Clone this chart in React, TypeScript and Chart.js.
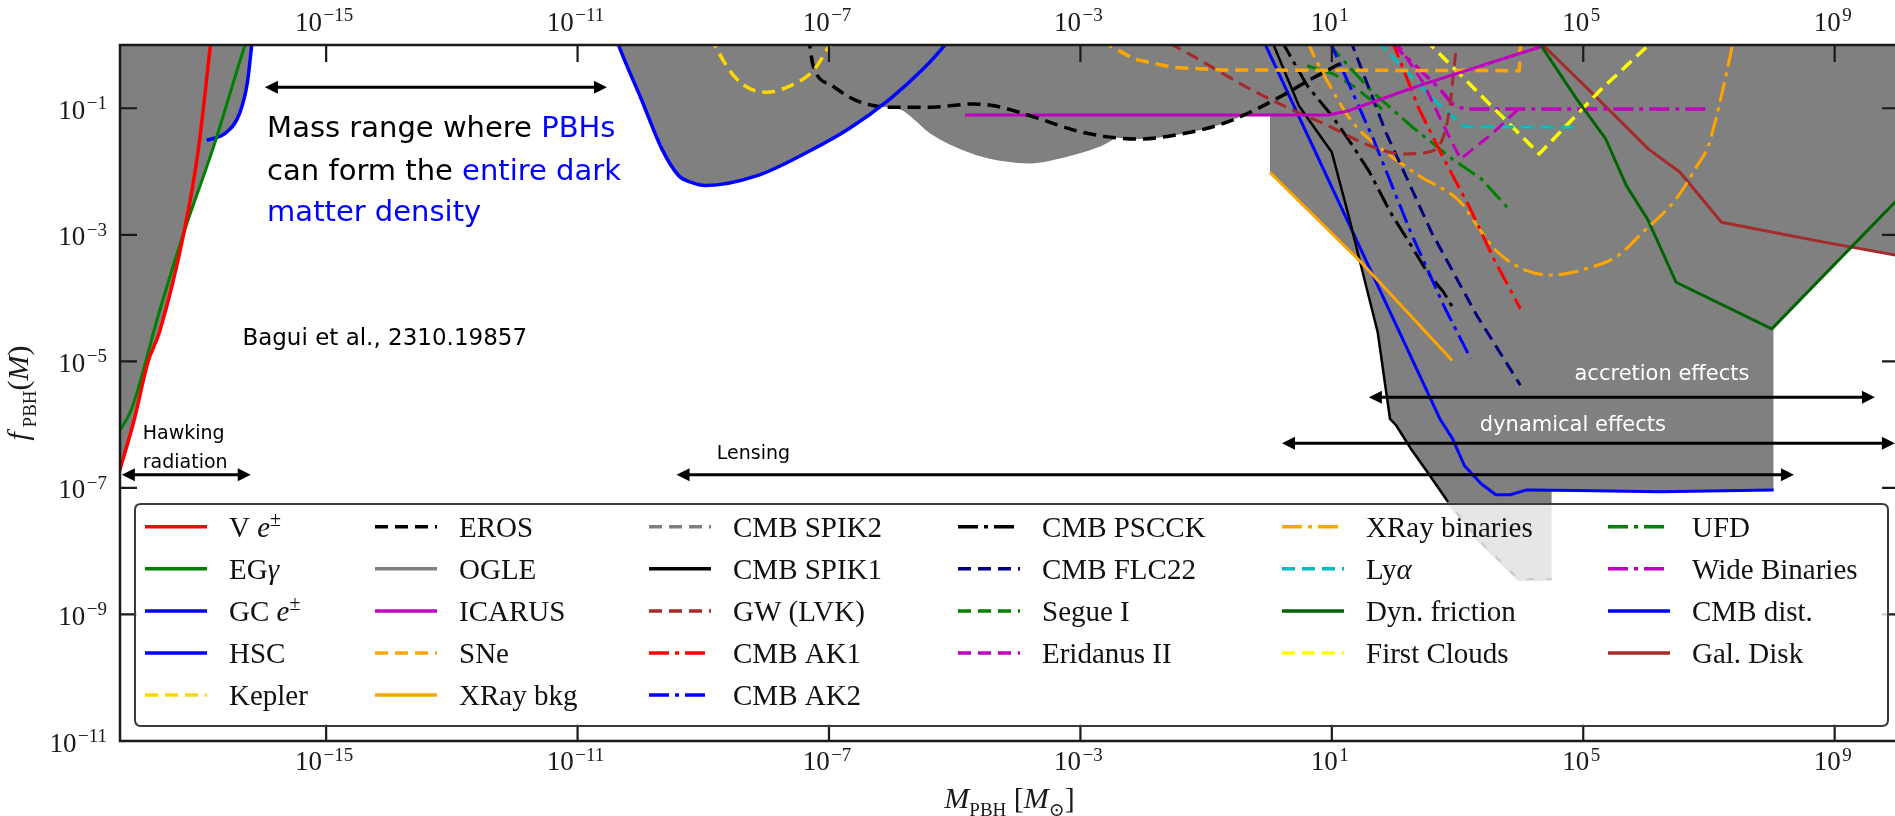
import React, { useEffect, useRef } from 'react';
import { Chart, registerables } from 'chart.js';

Chart.register(...registerables);

// ---------------- axes ----------------
const X_MIN = 5.25e-19;
const X_MAX = 9.12e9;
const Y_MIN = 1e-11;
const Y_MAX = 1;
const xTickValues = [1e-15, 1e-11, 1e-7, 1e-3, 1e1, 1e5, 1e9];
const yTickValues = [1e-1, 1e-3, 1e-5, 1e-7, 1e-9, 1e-11];

// ---------------- data (M in solar masses, f_PBH) ----------------
const veM = [5.0e-19, 8.9e-19, 1.45e-18, 2.24e-18, 5.5e-18, 9.3e-18, 1.45e-17, 1.5e-17];
const veF = [1.66e-7, 1.23e-6, 9.5e-6, 2.95e-5, 1.12e-3, 0.023, 1.05, 1.4];

const egM = [5.0e-19, 7.9e-19, 2.24e-18, 5.5e-18, 1.58e-17, 5.2e-17, 5.75e-17];
const egF = [7.6e-7, 1.7e-6, 6.3e-5, 1.12e-3, 0.023, 1.05, 1.4];

const gcM = [1.26e-17, 2.63e-17, 4.27e-17, 5.6e-17, 6.6e-17, 6.9e-17];
const gcF = [0.031, 0.042, 0.087, 0.26, 1.05, 1.4];

const hscM = [4.0e-11, 4.4e-11, 1.03e-10, 2.19e-10, 4.07e-10, 6.3e-10, 1.1e-9, 7.2e-9, 4.5e-8, 2.04e-7, 9.3e-7, 3.16e-6, 7.2e-6, 8.9e-6];
const hscF = [1.4, 1.05, 0.14, 0.0228, 8.6e-3, 6.8e-3, 6.0e-3, 8.6e-3, 0.0202, 0.047, 0.14, 0.42, 1.04, 1.4];

const keplerM = [1.3e-9, 1.48e-9, 3.4e-9, 9.8e-9, 2.45e-8, 5.6e-8, 1.02e-7, 1.23e-7];
const keplerF = [1.4, 1.05, 0.29, 0.179, 0.228, 0.393, 0.975, 1.3];

const erosM = [4.7e-8, 4.9e-8, 5.6e-8, 1.12e-7, 2.75e-7, 9.3e-7, 4.3e-6, 1.95e-5, 4.2e-5, 1.9e-4, 8.7e-4, 2.95e-3, 8.5e-3, 0.039, 0.178, 0.5, 1.62, 4.7, 16.2];
const erosF = [1.4, 1.05, 0.47, 0.228, 0.132, 0.104, 0.104, 0.117, 0.11, 0.072, 0.044, 0.035, 0.0327, 0.039, 0.0565, 0.0865, 0.158, 0.29, 0.56];

const ogleM = [1.3e-6, 1.7e-6, 4.27e-6, 1.95e-5, 5.25e-5, 1.66e-4, 5.5e-4, 1.86e-3, 3.55e-3];
const ogleF = [0.104, 0.0916, 0.0418, 0.0202, 0.0158, 0.0143, 0.0178, 0.0256, 0.0355];

const icarusM = [1.45e-5, 8.7, 18.6, 61.7, 245, 1122, 5130, 2.0e4, 2.5e4];
const icarusF = [0.0783, 0.0783, 0.0916, 0.14, 0.228, 0.37, 0.6, 0.92, 1.26];

const sneM = [2.24e-3, 2.95e-3, 7.2e-3, 0.0285, 0.178, 9.6e3, 1.0e4, 1.0e4];
const sneF = [1.26, 0.975, 0.6, 0.445, 0.403, 0.393, 0.93, 1.3];

const xbkgM = [1.03, 29.2, 822];
const xbkgF = [9.75e-3, 3.69e-4, 1.03e-5];

const spik2M = [708, 2040, 9330, 3.16e4];
const spik2F = [6.0e-8, 1.58e-8, 3.6e-9, 3.6e-9];

const spik1M = [1.12, 1.2, 2.99, 10, 18.5, 33.9, 53.7, 84.3, 106, 180, 331, 708, 2040, 9330, 3.16e4];
const spik1F = [1.3, 0.975, 0.11, 0.0202, 2.0e-3, 1.78e-4, 2.88e-5, 1.23e-6, 9.7e-7, 4.2e-7, 1.78e-7, 6.0e-8, 1.58e-8, 3.6e-9, 3.6e-9];

const gwM = [0.026, 0.039, 0.5, 1.9, 8.7, 39.8, 132, 331, 603, 759, 832, 955, 977];
const gwF = [1.07, 0.865, 0.202, 0.104, 0.053, 0.0257, 0.019, 0.0202, 0.0369, 0.11, 0.257, 0.975, 1.3];

const ak1M = [89, 98, 244, 607, 1510, 3770, 1.0e4];
const ak1F = [1.26, 0.975, 0.0975, 0.0158, 2.88e-3, 4.17e-4, 6.8e-5];

const ak2M = [9.0, 10, 45.7, 180, 603, 1620];
const ak2F = [1.26, 0.975, 0.0327, 1.1e-3, 7.6e-5, 1.1e-5];

const pscckM = [1.58, 1.76, 4.05, 10, 21.4, 39.8, 85, 182, 331, 603, 832];
const pscckF = [1.26, 0.975, 0.228, 0.0764, 0.0257, 9.8e-3, 2.29e-3, 6.8e-4, 2.57e-4, 1.23e-4, 7.2e-5];

const flc22M = [20, 21.4, 72.4, 385, 2040, 1.0e4];
const flc22F = [1.26, 0.975, 0.0417, 1.1e-3, 5.25e-5, 4.2e-6];

const segueM = [4.05, 10.7, 23.2, 63];
const segueF = [0.47, 0.348, 0.217, 0.0975];

const eridM = [105, 115, 282, 603, 1120, 3770, 9330];
const eridF = [1.26, 0.975, 0.257, 0.053, 0.0158, 0.0417, 0.0975];

const xbinM = [4.0, 4.4, 8.7, 21.4, 61.7, 245, 1120, 2040, 4370, 1.26e4, 3.16e4, 1.07e5, 3.55e5, 8.9e5, 3.0e6, 6.5e6, 9.8e6, 1.41e7, 1.86e7, 2.34e7, 2.45e7];
const xbinF = [1.26, 0.975, 0.257, 0.06, 0.0228, 8.6e-3, 3.27e-3, 1.4e-3, 5.3e-4, 2.72e-4, 2.32e-4, 2.88e-4, 4.68e-4, 1.1e-3, 3.7e-3, 0.0124, 0.0257, 0.0975, 0.327, 0.975, 1.3];

const lyaM = [55, 61.7, 180, 525, 1290, 9.1e4];
const lyaF = [1.26, 0.975, 0.327, 0.11, 0.0513, 0.05];

const dynM = [1.9e4, 2.14e4, 7.85e4, 2.28e5, 4.85e5, 1.05e6, 3.0e6, 1.0e8, 1.0e10];
const dynF = [1.3, 0.975, 0.14, 0.0327, 5.98e-3, 1.78e-3, 1.78e-4, 3.26e-5, 3.6e-3];

const cloudsM = [320, 385, 2.0e4, 1.95e5, 1.07e6, 1.25e6];
const cloudsF = [1.3, 0.975, 0.019, 0.202, 0.975, 1.3];

const ufdM = [9.0, 10, 39.4, 180, 824, 2400, 6900];
const ufdF = [1.2, 0.92, 0.202, 0.053, 0.0158, 7.6e-3, 2.41e-3];

const wideM = [89, 98, 244, 525, 824, 1290, 1.01e7];
const wideF = [1.26, 0.975, 0.418, 0.202, 0.117, 0.0975, 0.0975];

const cmbdM = [0.79, 0.89, 525, 832, 1290, 2400, 4070, 6900, 1.26e4, 7.9e4, 1.62e6, 1.07e8];
const cmbdF = [1.26, 0.975, 1.23e-6, 6.0e-7, 2.24e-7, 1.15e-7, 7.8e-8, 7.8e-8, 9.3e-8, 9.1e-8, 8.7e-8, 9.3e-8];

const diskM = [2.0e4, 2.34e4, 1.53e5, 1.08e6, 3.47e6, 1.58e7, 7.1e8, 1.0e10];
const diskF = [1.26, 0.975, 0.158, 0.0228, 9.75e-3, 1.58e-3, 7.6e-4, 4.73e-4];

const legendLabels = [
  'V e±', 'EGγ', 'GC e±', 'HSC', 'Kepler',
  'EROS', 'OGLE', 'ICARUS', 'SNe', 'XRay bkg',
  'CMB SPIK2', 'CMB SPIK1', 'GW (LVK)', 'CMB AK1', 'CMB AK2',
  'CMB PSCCK', 'CMB FLC22', 'Segue I', 'Eridanus II',
  'XRay binaries', 'Lyα', 'Dyn. friction', 'First Clouds',
  'UFD', 'Wide Binaries', 'CMB dist.', 'Gal. Disk',
];
const legendColumnSizes = [5, 5, 5, 4, 4, 4];

// annotation anchors (data coordinates)
const massRangeArrow = { m1: 1.06e-16, m2: 2.93e-11, f: 0.215 };
const massRangeText = { m: 1.15e-16, f: [0.0469, 9.75e-3, 2.14e-3] };
const baguiText = { m: 4.65e-17, f: 2.26e-5 };
const hawkingText = { m: 1.21e-18, f: [7.0e-7, 2.5e-7] };
const hawkingArrow = { m1: 5.62e-19, m2: 6.32e-17, f: 1.61e-7 };
const lensingText = { m: 1.64e-9, f: 3.4e-7 };
const lensingArrow = { m1: 3.76e-10, m2: 2.25e8, f: 1.61e-7 };
const accretionText = { m: 1.79e6, f: 6.2e-6 };
const accretionArrow = { m1: 38.9, m2: 4.37e9, f: 2.72e-6 };
const dynamicalText = { m: 6.85e4, f: 9.6e-7 };
const dynamicalArrow = { m1: 1.61, m2: 9.08e9, f: 5.1e-7 };

// ---------------- styles ----------------
const GRAY = '#808080';
const RED = '#FF0000';
const GREEN = '#008000';
const BLUE = '#0000FF';
const GOLD = '#FFD700';
const BLACK = '#000000';
const MAGENTA = '#BF00BF';
const ORANGE = '#FFA500';
const BROWN = '#A52A2A';
const NAVY = '#000080';
const CYAN = '#00BFBF';
const DKGREEN = '#006400';
const YELLOW = '#FFFF00';
const SOLID: number[] = [];
const DASH = [13, 7];
const DASHDOT = [20, 6, 4, 6];

const SERIF = '"Liberation Serif", "DejaVu Serif", serif';
const HAND = '"DejaVu Sans", "Noto Sans", sans-serif';

type Spec = { m: number[]; f: number[]; color: string; width: number; dash: number[]; fill: boolean; smooth: boolean };
const specs: Spec[] = [
  { m: veM, f: veF, color: RED, width: 3.5, dash: SOLID, fill: true, smooth: true },
  { m: egM, f: egF, color: GREEN, width: 3, dash: SOLID, fill: true, smooth: true },
  { m: gcM, f: gcF, color: BLUE, width: 3.5, dash: SOLID, fill: true, smooth: true },
  { m: hscM, f: hscF, color: BLUE, width: 3.5, dash: SOLID, fill: true, smooth: true },
  { m: keplerM, f: keplerF, color: GOLD, width: 3.5, dash: DASH, fill: false, smooth: true },
  { m: erosM, f: erosF, color: BLACK, width: 3.5, dash: DASH, fill: true, smooth: true },
  { m: ogleM, f: ogleF, color: GRAY, width: 3.5, dash: SOLID, fill: true, smooth: true },
  { m: icarusM, f: icarusF, color: MAGENTA, width: 3, dash: SOLID, fill: true, smooth: false },
  { m: sneM, f: sneF, color: ORANGE, width: 3.5, dash: DASH, fill: false, smooth: false },
  { m: xbkgM, f: xbkgF, color: ORANGE, width: 3, dash: SOLID, fill: true, smooth: false },
  { m: spik2M, f: spik2F, color: GRAY, width: 3, dash: DASH, fill: false, smooth: false },
  { m: spik1M, f: spik1F, color: BLACK, width: 2.5, dash: SOLID, fill: true, smooth: false },
  { m: gwM, f: gwF, color: BROWN, width: 3, dash: DASH, fill: false, smooth: true },
  { m: ak1M, f: ak1F, color: RED, width: 3, dash: DASHDOT, fill: false, smooth: false },
  { m: ak2M, f: ak2F, color: BLUE, width: 3, dash: DASHDOT, fill: false, smooth: false },
  { m: pscckM, f: pscckF, color: BLACK, width: 3, dash: DASHDOT, fill: false, smooth: false },
  { m: flc22M, f: flc22F, color: NAVY, width: 3, dash: DASH, fill: false, smooth: false },
  { m: segueM, f: segueF, color: GREEN, width: 3, dash: DASH, fill: false, smooth: false },
  { m: eridM, f: eridF, color: MAGENTA, width: 3, dash: DASH, fill: false, smooth: false },
  { m: xbinM, f: xbinF, color: ORANGE, width: 3, dash: DASHDOT, fill: false, smooth: true },
  { m: lyaM, f: lyaF, color: CYAN, width: 3, dash: DASH, fill: false, smooth: false },
  { m: dynM, f: dynF, color: DKGREEN, width: 3, dash: SOLID, fill: true, smooth: false },
  { m: cloudsM, f: cloudsF, color: YELLOW, width: 3.5, dash: DASH, fill: false, smooth: false },
  { m: ufdM, f: ufdF, color: GREEN, width: 3, dash: DASHDOT, fill: false, smooth: false },
  { m: wideM, f: wideF, color: MAGENTA, width: 3.5, dash: DASHDOT, fill: false, smooth: false },
  { m: cmbdM, f: cmbdF, color: BLUE, width: 3, dash: SOLID, fill: true, smooth: false },
  { m: diskM, f: diskF, color: BROWN, width: 3, dash: SOLID, fill: true, smooth: false },
];

// ---------------- drawing helpers ----------------
type Seg = { t: string; it?: boolean; sub?: boolean; sup?: boolean; color?: string };

function segFont(s: Seg, size: number, small: number, family: string) {
  const sz = s.sub || s.sup ? small : size;
  return `${s.it ? 'italic ' : ''}${sz}px ${family}`;
}
function richWidth(ctx: CanvasRenderingContext2D, segs: Seg[], size: number, small: number, family: string) {
  let w = 0;
  for (const s of segs) {
    ctx.font = segFont(s, size, small, family);
    w += ctx.measureText(s.t).width;
  }
  return w;
}
function drawRich(ctx: CanvasRenderingContext2D, segs: Seg[], x: number, y: number, size: number, small: number, family: string, defColor: string) {
  let cx = x;
  for (const s of segs) {
    ctx.font = segFont(s, size, small, family);
    const dy = s.sub ? size * 0.26 : s.sup ? -size * 0.36 : 0;
    ctx.fillStyle = s.color || defColor;
    ctx.fillText(s.t, cx, y + dy);
    cx += ctx.measureText(s.t).width;
  }
}

function drawPow(ctx: CanvasRenderingContext2D, exp: number, x: number, yc: number, align: 'left' | 'center' | 'right') {
  const base = '10';
  const e = (exp < 0 ? '\u2212' : '') + Math.abs(exp);
  ctx.font = `27px ${SERIF}`;
  const wb = ctx.measureText(base).width;
  ctx.font = `19px ${SERIF}`;
  const we = ctx.measureText(e).width;
  const gap = 1.5;
  const tw = wb + gap + we;
  const x0 = align === 'right' ? x - tw : align === 'center' ? x - tw / 2 : x;
  ctx.textAlign = 'left';
  ctx.textBaseline = 'alphabetic';
  ctx.fillStyle = '#1a1a1a';
  ctx.font = `27px ${SERIF}`;
  ctx.fillText(base, x0, yc + 9);
  ctx.font = `19px ${SERIF}`;
  ctx.fillText(e, x0 + wb + gap, yc - 0.5);
}

function labelSegs(label: string): Seg[] {
  if (label.endsWith('e±')) return [{ t: label.slice(0, -2) }, { t: 'e', it: true }, { t: '±', sup: true }];
  if (label.endsWith('γ')) return [{ t: label.slice(0, -1) }, { t: 'γ', it: true }];
  if (label.endsWith('α')) return [{ t: label.slice(0, -1) }, { t: 'α', it: true }];
  return [{ t: label }];
}

function arrow(ctx: CanvasRenderingContext2D, x1: number, x2: number, y: number) {
  const hl = 13;
  const hw = 6.5;
  ctx.strokeStyle = '#000';
  ctx.fillStyle = '#000';
  ctx.lineWidth = 3;
  ctx.setLineDash([]);
  ctx.beginPath();
  ctx.moveTo(x1 + hl - 2, y);
  ctx.lineTo(x2 - hl + 2, y);
  ctx.stroke();
  ctx.beginPath();
  ctx.moveTo(x1, y);
  ctx.lineTo(x1 + hl, y - hw);
  ctx.lineTo(x1 + hl, y + hw);
  ctx.closePath();
  ctx.fill();
  ctx.beginPath();
  ctx.moveTo(x2, y);
  ctx.lineTo(x2 - hl, y - hw);
  ctx.lineTo(x2 - hl, y + hw);
  ctx.closePath();
  ctx.fill();
}

function roundRectPath(ctx: CanvasRenderingContext2D, x: number, y: number, w: number, h: number, r: number) {
  ctx.beginPath();
  ctx.moveTo(x + r, y);
  ctx.lineTo(x + w - r, y);
  ctx.quadraticCurveTo(x + w, y, x + w, y + r);
  ctx.lineTo(x + w, y + h - r);
  ctx.quadraticCurveTo(x + w, y + h, x + w - r, y + h);
  ctx.lineTo(x + r, y + h);
  ctx.quadraticCurveTo(x, y + h, x, y + h - r);
  ctx.lineTo(x, y + r);
  ctx.quadraticCurveTo(x, y, x + r, y);
  ctx.closePath();
}

const decorPlugin = {
  id: 'pbhDecor',
  afterDatasetsDraw(chart: any) {
    const ctx: CanvasRenderingContext2D = chart.ctx;
    const { left, right, top, bottom } = chart.chartArea;
    const xs = chart.scales.x;
    const ys = chart.scales.y;
    ctx.save();
    ctx.setLineDash([]);
    ctx.strokeStyle = '#1a1a1a';
    ctx.lineWidth = 2.5;
    ctx.beginPath();
    ctx.moveTo(right + 4, top);
    ctx.lineTo(left, top);
    ctx.lineTo(left, bottom);
    ctx.lineTo(right + 4, bottom);
    ctx.stroke();
    ctx.lineWidth = 2.2;
    ctx.beginPath();
    for (const v of xTickValues) {
      const px = xs.getPixelForValue(v);
      ctx.moveTo(px, top);
      ctx.lineTo(px, top + 17);
      ctx.moveTo(px, bottom);
      ctx.lineTo(px, bottom - 17);
    }
    for (const v of yTickValues) {
      const py = ys.getPixelForValue(v);
      ctx.moveTo(left, py);
      ctx.lineTo(left + 17, py);
      ctx.moveTo(right - 13, py);
      ctx.lineTo(right, py);
    }
    ctx.stroke();
    // tick labels
    for (const v of xTickValues) {
      const px = xs.getPixelForValue(v);
      const e = Math.round(Math.log10(v));
      drawPow(ctx, e, px - 2, 21.7, 'center');
      drawPow(ctx, e, px - 2, 761, 'center');
    }
    for (const v of yTickValues) {
      const py = ys.getPixelForValue(v);
      const e = Math.round(Math.log10(v));
      drawPow(ctx, e, left - 13, py + 1.5, 'right');
    }
    // axis titles
    ctx.textAlign = 'left';
    ctx.textBaseline = 'alphabetic';
    const xt: Seg[] = [{ t: 'M', it: true }, { t: 'PBH', sub: true }, { t: ' [' }, { t: 'M', it: true }, { t: '⊙', sub: true }, { t: ']' }];
    const xw = richWidth(ctx, xt, 30, 19, SERIF);
    drawRich(ctx, xt, (left + right + 4) / 2 - xw / 2, 808, 30, 19, SERIF, '#1a1a1a');
    const yt: Seg[] = [{ t: 'f', it: true }, { t: ' PBH', sub: true }, { t: '(' }, { t: 'M', it: true }, { t: ')' }];
    const yw = richWidth(ctx, yt, 30, 19, SERIF);
    ctx.save();
    ctx.translate(28, (top + bottom) / 2);
    ctx.rotate(-Math.PI / 2);
    drawRich(ctx, yt, -yw / 2, 0, 30, 19, SERIF, '#1a1a1a');
    ctx.restore();
    ctx.restore();
  },
  afterDraw(chart: any) {
    const ctx: CanvasRenderingContext2D = chart.ctx;
    const xs = chart.scales.x;
    const ys = chart.scales.y;
    const X = (m: number) => xs.getPixelForValue(m);
    const Y = (f: number) => ys.getPixelForValue(f);
    ctx.save();
    // ---- legend ----
    roundRectPath(ctx, 135, 504, 1888 - 135, 726 - 504, 6);
    ctx.fillStyle = 'rgba(255,255,255,0.8)';
    ctx.fill();
    ctx.strokeStyle = '#3a3a3a';
    ctx.lineWidth = 2;
    ctx.stroke();
    const colX = [145, 375, 649, 958, 1282, 1608];
    const rowY0 = 526.7;
    const rowDY = 42.1;
    let idx = 0;
    const datasets = chart.data.datasets;
    for (let c = 0; c < legendColumnSizes.length; c++) {
      for (let r = 0; r < legendColumnSizes[c]; r++) {
        const ds = datasets[idx];
        const y = rowY0 + r * rowDY;
        ctx.setLineDash(ds.borderDash || []);
        ctx.strokeStyle = ds.borderColor;
        ctx.lineWidth = Math.max(3.5, ds.borderWidth);
        ctx.lineCap = 'butt';
        ctx.beginPath();
        ctx.moveTo(colX[c], y);
        ctx.lineTo(colX[c] + 62, y);
        ctx.stroke();
        ctx.setLineDash([]);
        ctx.textAlign = 'left';
        ctx.textBaseline = 'alphabetic';
        drawRich(ctx, labelSegs(legendLabels[idx]), colX[c] + 84, y + 10, 29, 20, SERIF, '#111');
        idx++;
      }
    }
    // ---- annotations ----
    arrow(ctx, X(massRangeArrow.m1), X(massRangeArrow.m2), Y(massRangeArrow.f));
    ctx.textAlign = 'left';
    ctx.textBaseline = 'middle';
    const mr: Seg[][] = [
      [{ t: 'Mass range where ', color: '#000' }, { t: 'PBHs', color: '#0000FF' }],
      [{ t: 'can form the ', color: '#000' }, { t: 'entire dark', color: '#0000FF' }],
      [{ t: 'matter density', color: '#0000FF' }],
    ];
    mr.forEach((line, i) => drawRich(ctx, line, X(massRangeText.m), Y(massRangeText.f[i]), 29, 29, HAND, '#000'));
    ctx.fillStyle = '#000';
    ctx.font = `23px ${HAND}`;
    ctx.fillText('Bagui et al., 2310.19857', X(baguiText.m), Y(baguiText.f));
    ctx.font = `19px ${HAND}`;
    ctx.fillText('Hawking', X(hawkingText.m), Y(hawkingText.f[0]));
    ctx.fillText('radiation', X(hawkingText.m), Y(hawkingText.f[1]));
    arrow(ctx, X(hawkingArrow.m1), X(hawkingArrow.m2), Y(hawkingArrow.f));
    ctx.fillStyle = '#000';
    ctx.font = `19px ${HAND}`;
    ctx.fillText('Lensing', X(lensingText.m), Y(lensingText.f));
    arrow(ctx, X(lensingArrow.m1), X(lensingArrow.m2), Y(lensingArrow.f));
    ctx.textAlign = 'center';
    ctx.fillStyle = '#fff';
    ctx.font = `21px ${HAND}`;
    ctx.fillText('accretion effects', X(accretionText.m), Y(accretionText.f));
    ctx.fillText('dynamical effects', X(dynamicalText.m), Y(dynamicalText.f));
    arrow(ctx, X(accretionArrow.m1), X(accretionArrow.m2), Y(accretionArrow.f));
    arrow(ctx, X(dynamicalArrow.m1), X(dynamicalArrow.m2), Y(dynamicalArrow.f));
    ctx.restore();
  },
};

export default function App() {
  const ref = useRef<HTMLCanvasElement>(null);
  useEffect(() => {
    document.body.style.margin = '0';
    document.body.style.overflow = 'hidden';
    const canvas = ref.current!;
    const chart = new Chart(canvas, {
      type: 'line',
      data: {
        datasets: specs.map((s, i) => ({
          label: legendLabels[i],
          data: s.m.map((x, j) => ({ x, y: s.f[j] })),
          borderColor: s.color,
          borderWidth: s.width,
          borderDash: s.dash,
          pointRadius: 0,
          pointHoverRadius: 0,
          tension: 0,
          cubicInterpolationMode: s.smooth ? 'monotone' : 'default',
          fill: s.fill ? 'end' : false,
          backgroundColor: GRAY,
          clip: 0,
          borderCapStyle: 'butt',
          borderJoinStyle: 'round',
        })) as any,
      },
      options: {
        animation: false,
        responsive: false,
        devicePixelRatio: 1,
        events: [],
        layout: { padding: { top: 45, right: 0, left: 0, bottom: 0 } },
        plugins: {
          legend: { display: false },
          tooltip: { enabled: false },
          title: { display: false },
          filler: { drawTime: 'beforeDatasetsDraw' },
        } as any,
        scales: {
          x: {
            type: 'logarithmic',
            position: 'bottom',
            min: X_MIN,
            max: X_MAX,
            bounds: 'data',
            grid: { display: false },
            border: { display: false },
            ticks: { display: false },
            afterBuildTicks: (s: any) => { s.ticks = xTickValues.map((v) => ({ value: v })); },
            afterFit: (s: any) => { s.height = 75; },
          },
          y: {
            type: 'logarithmic',
            position: 'left',
            min: Y_MIN,
            max: Y_MAX,
            bounds: 'data',
            grid: { display: false },
            border: { display: false },
            ticks: { display: false },
            afterBuildTicks: (s: any) => { s.ticks = yTickValues.map((v) => ({ value: v })); },
            afterFit: (s: any) => { s.width = 120; },
          },
        } as any,
      },
      plugins: [decorPlugin],
    });
    return () => chart.destroy();
  }, []);
  return (
    <canvas
      ref={ref}
      width={1895}
      height={816}
      style={{ position: 'fixed', left: 0, top: 0, width: 1895, height: 816, background: '#fff' }}
    />
  );
}
